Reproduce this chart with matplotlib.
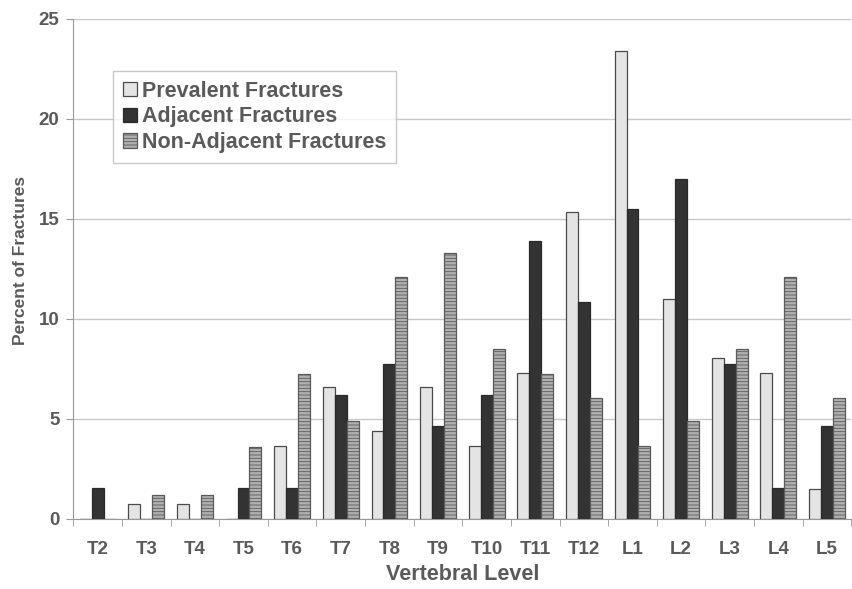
import matplotlib.pyplot as plt
import numpy as np

plt.rcParams['font.family'] = ['Liberation Sans', 'DejaVu Sans']
plt.rcParams['hatch.linewidth'] = 0.6

levels = ['T2', 'T3', 'T4', 'T5', 'T6', 'T7', 'T8', 'T9', 'T10', 'T11', 'T12',
          'L1', 'L2', 'L3', 'L4', 'L5']
prevalent = [0, 0.75, 0.75, 0, 3.65, 6.6, 4.4, 6.6, 3.65, 7.3, 15.35,
             23.4, 11.0, 8.05, 7.3, 1.5]
adjacent = [1.55, 0, 0, 1.55, 1.55, 6.2, 7.75, 4.65, 6.2, 13.9, 10.85,
            15.5, 17.0, 7.75, 1.55, 4.65]
non_adjacent = [0, 1.2, 1.2, 3.6, 7.25, 4.9, 12.1, 13.3, 8.5, 7.25, 6.05,
                3.65, 4.9, 8.5, 12.1, 6.05]

txt = '#5a5a5a'

def main():
    fig = plt.figure(figsize=(8.53, 5.89), dpi=100)
    ax = fig.add_axes([0.086, 0.119, 0.912, 0.849])

    x = np.arange(len(levels))
    w = 0.245
    ax.bar(x - w, prevalent, w, color='#e4e4e4', edgecolor='#4a4a4a',
           linewidth=0.9, label='Prevalent Fractures', zorder=3)
    ax.bar(x, adjacent, w, color='#333333', edgecolor='#2a2a2a',
           linewidth=0.9, label='Adjacent Fractures', zorder=3)
    ax.bar(x + w, non_adjacent, w, color='#b0b0b0', edgecolor='#5a5a5a',
           linewidth=0.9, hatch='-----', label='Non-Adjacent Fractures', zorder=3)

    ax.set_xlim(-0.5, len(levels) - 0.5)
    ax.set_ylim(0, 25)
    ax.set_yticks([0, 5, 10, 15, 20, 25])
    ax.yaxis.grid(True, color='#c8c8c8', linewidth=1, zorder=0)

    ax.set_xticks(x)
    ax.set_xticklabels(levels)
    ax.set_xticks(np.arange(len(levels) + 1) - 0.5, minor=True)
    ax.tick_params(axis='x', which='major', length=0, pad=16)
    ax.tick_params(axis='x', which='minor', length=5, color='#999999')
    ax.tick_params(axis='y', length=5, color='#999999', pad=5)
    for lab in ax.get_xticklabels() + ax.get_yticklabels():
        lab.set_fontweight('bold')
        lab.set_fontsize(13.5)
        lab.set_color(txt)

    for s in ['top', 'right']:
        ax.spines[s].set_visible(False)
    for s in ['left', 'bottom']:
        ax.spines[s].set_color('#999999')

    ax.set_xlabel('Vertebral Level', fontsize=15.5, fontweight='bold', color=txt, labelpad=4)
    ax.set_ylabel('Percent of Fractures', fontsize=12.5, fontweight='bold', color=txt)
    ax.yaxis.set_label_coords(-0.058, 0.516)

    leg = ax.legend(loc='upper left', bbox_to_anchor=(0.051, 0.896), frameon=True,
                    fancybox=False, edgecolor='#bbbbbb', handlelength=0.65,
                    handleheight=0.65, handletextpad=0.25, labelspacing=0.22,
                    borderpad=0.45, borderaxespad=0,
                    prop={'weight': 'bold', 'size': 15.5})
    for t in leg.get_texts():
        t.set_color(txt)

    fig.savefig('out.png', dpi=100)

if __name__ == '__main__':
    main()
